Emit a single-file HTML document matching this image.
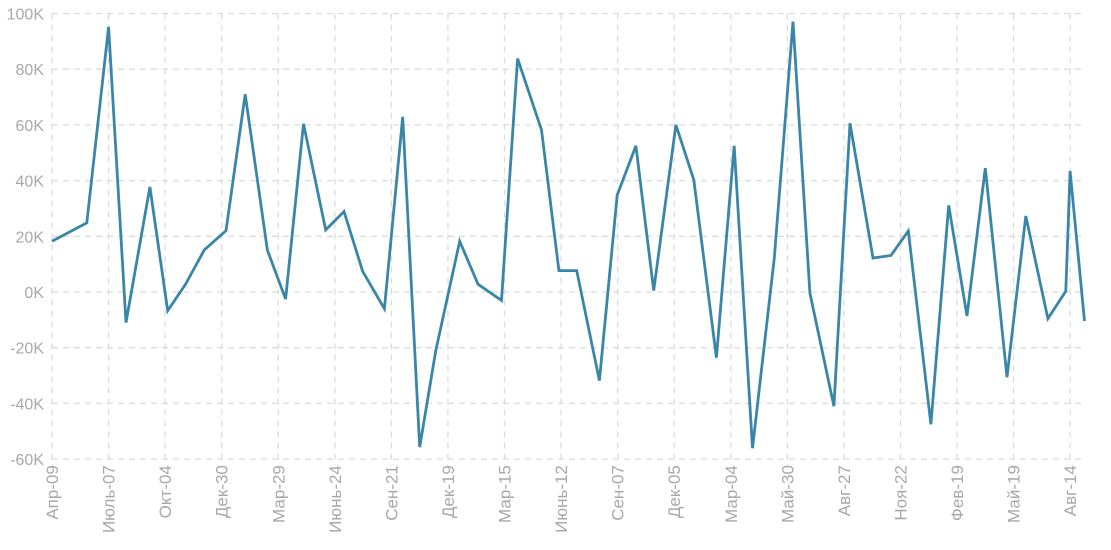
<!DOCTYPE html>
<html><head><meta charset="utf-8"><style>
html,body{margin:0;padding:0;background:#fff;}
svg{display:block;font-family:"Liberation Sans",sans-serif;}
</style></head><body>
<svg id="chart" width="1111" height="550" xmlns="http://www.w3.org/2000/svg">
<g id="grid"></g>
<g id="yaxis"></g>
<g id="xaxis"></g>
<path id="line" fill="none" stroke="#3a86a8" stroke-width="2.8" stroke-linejoin="miter"/>
</svg>
<script>
const weeks=[0,8,13,17,22.5,26.6,30.7,35,40,44.4,49.5,53.7,57.8,62.9,67.1,71.4,76.4,80.6,84.5,88.2,93.7,97.9,103.3,107,112.5,116.5,120.6,125.8,129.9,134.2,138.3,143.4,147.5,152.7,156.8,161,166,170.3,174.2,179.7,183.4,188.7,192.8,196.8,202,206.1,210.3,214.5,219.5,223.8,228.9,233,234,237.3];
const values=[18.2,24.8,95.2,-11,37.7,-6.7,2.8,15.1,22,71,15,-2.5,60.4,22.3,28.9,7.4,-6,62.9,-55.7,-21,18.2,2.8,-3,83.8,58.2,7.7,7.7,-31.8,34.8,52.5,0.5,60,40.3,-23.6,52.5,-56.1,12.2,97.1,-0.4,-41,60.6,12.2,13.1,21.9,-47.5,31.1,-8.6,44.5,-30.6,27.3,-9.6,0.3,43.4,-10.4];
const xTickLabels=["Апр-09","Июль-07","Окт-04","Дек-30","Мар-29","Июнь-24","Сен-21","Дек-19","Мар-15","Июнь-12","Сен-07","Дек-05","Мар-04","Май-30","Авг-27","Ноя-22","Фев-19","Май-19","Авг-14"];
const xTickWeeks=[0,13,26,39,52,65,78,91,104,117,130,143,156,169,182,195,208,221,234];
const yTicks=[100,80,60,40,20,0,-20,-40,-60];
const yTickLabels=["100K","80K","60K","40K","20K","0K","-20K","-40K","-60K"];

const NS="http://www.w3.org/2000/svg";
const X0=52,PXW=4.351,Y0=292,PXV=2.785;
const xs=w=>X0+w*PXW;
const ys=v=>Y0-v*PXV;
const grid=document.getElementById('grid'),ya=document.getElementById('yaxis'),xa=document.getElementById('xaxis');
function mk(t,a){const e=document.createElementNS(NS,t);for(const k in a)e.setAttribute(k,a[k]);return e;}
const right=1086;
yTicks.forEach((v,i)=>{
  const y=ys(v);
  const l=mk('line',{x1:X0,x2:right,y1:y,y2:y,stroke:'#dcdcdc','stroke-width':1.3,'stroke-dasharray':'6,5'});
  
  
  grid.appendChild(l);
  const t=mk('text',{x:44,y:y+6,'text-anchor':'end','font-size':16,fill:'#a8a8a8'});
  
  
  t.textContent=yTickLabels[i];ya.appendChild(t);
});
xTickWeeks.forEach((w,i)=>{
  const x=xs(w);
  const l=mk('line',{x1:x,x2:x,y1:ys(100),y2:ys(-60)+6,stroke:'#dcdcdc','stroke-width':1.3,'stroke-dasharray':'6,5'});
  
  
  grid.appendChild(l);
  const t=mk('text',{x:0,y:0,'text-anchor':'end','font-size':17,fill:'#a8a8a8',transform:`translate(${x+6},${ys(-60)+6}) rotate(-90)`});
  
  
  t.textContent=xTickLabels[i];xa.appendChild(t);
});
document.getElementById('line').setAttribute('d',weeks.map((w,i)=>(i?'L':'M')+xs(w).toFixed(1)+','+ys(values[i]).toFixed(1)).join(' '));
</script>
</body></html>
